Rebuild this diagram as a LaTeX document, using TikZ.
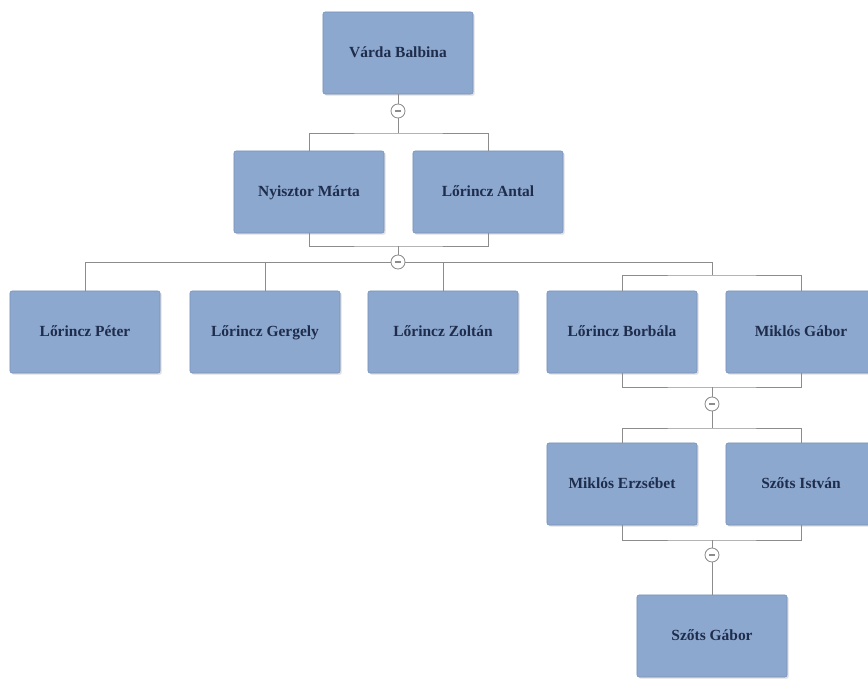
\documentclass[tikz,border=0pt]{standalone}
\usepackage{fontspec}
\setmainfont{Liberation Serif}
\usetikzlibrary{shadows}
\definecolor{boxfill}{HTML}{8DA8CF}
\definecolor{boxline}{HTML}{7891B8}
\definecolor{nametext}{HTML}{1F2D4C}
\definecolor{linkgray}{HTML}{8C8C8C}
\begin{document}
\begin{tikzpicture}[x=0.025cm, y=-0.025cm,
    person/.style={draw=boxline, fill=boxfill, rounded corners=1.5pt,
      minimum width=3.75cm, minimum height=2.05cm,
      text height=1.7ex, text depth=0.4ex,
      drop shadow={opacity=0.25, shadow xshift=1.2pt, shadow yshift=-1.2pt},
      text=nametext, font=\fontsize{11}{13}\selectfont\bfseries},
    knob/.style={circle, draw=linkgray, fill=white, line width=0.6pt,
      inner sep=0pt, minimum size=0.35cm,
      path picture={\draw[linkgray, line width=0.8pt]
        ([xshift=-1.8pt]path picture bounding box.center) --
        ([xshift=1.8pt]path picture bounding box.center);}},
    link/.style={draw=linkgray, line width=0.6pt}]
  \useasboundingbox (0,0) rectangle (868,678);
  % people
  \node[person] (varda) at (398,53) {Várda Balbina};
  \node[person] (nyisztor) at (309,192) {Nyisztor Márta};
  \node[person] (antal) at (488,192) {Lőrincz Antal};
  \node[person] (peter) at (85,332) {Lőrincz Péter};
  \node[person] (gergely) at (265,332) {Lőrincz Gergely};
  \node[person] (zoltan) at (443,332) {Lőrincz Zoltán};
  \node[person] (borbala) at (622,332) {Lőrincz Borbála};
  \node[person] (miklos) at (801,332) {Miklós Gábor};
  \node[person] (erzsebet) at (622,484) {Miklós Erzsébet};
  \node[person] (istvan) at (801,484) {Szőts István};
  \node[person] (gabor) at (712,636) {Szőts Gábor};
  % collapse knobs
  \node[knob] (c1) at (398,111) {};
  \node[knob] (c2) at (398,262) {};
  \node[knob] (c3) at (712,404) {};
  \node[knob] (c4) at (712,555) {};
  % junctions
  \coordinate (j1) at (398,133);
  \coordinate (k1) at (398,246);
  \coordinate (j2) at (712,275);
  \coordinate (k2) at (712,387);
  \coordinate (j3) at (712,428);
  \coordinate (k3) at (712,540);
  % links
  \path[link] (varda) -- (c1);
  \path[link] (c1) -- (j1);
  \path[link] (nyisztor.north) |- (j1) -| (antal.north);
  \path[link] (nyisztor.south) |- (k1) -| (antal.south);
  \path[link] (k1) -- (c2);
  \path[link] (peter.north) |- (c2.west);
  \path[link] (gergely.north) -- (gergely.north |- c2);
  \path[link] (zoltan.north) -- (zoltan.north |- c2);
  \path[link] (c2.east) -| (j2);
  \path[link] (borbala.north) |- (j2) -| (miklos.north);
  \path[link] (borbala.south) |- (k2) -| (miklos.south);
  \path[link] (k2) -- (c3);
  \path[link] (c3) -- (j3);
  \path[link] (erzsebet.north) |- (j3) -| (istvan.north);
  \path[link] (erzsebet.south) |- (k3) -| (istvan.south);
  \path[link] (k3) -- (c4);
  \path[link] (c4) -- (gabor);
\end{tikzpicture}
\end{document}
